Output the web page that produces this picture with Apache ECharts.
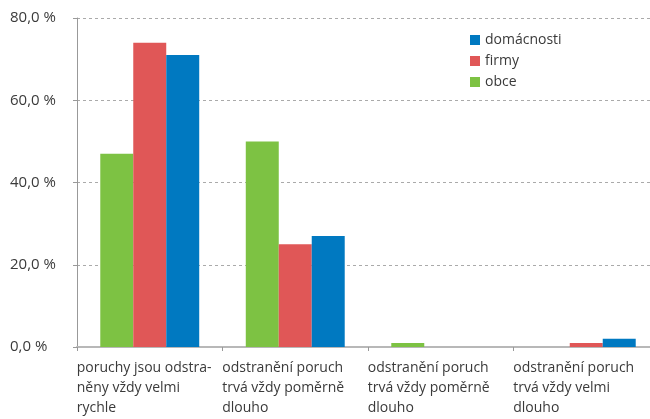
<!DOCTYPE html>
<html>
<head>
<meta charset="utf-8">
<script src="https://cdn.jsdelivr.net/npm/echarts@6/dist/echarts.min.js"></script>
<style>
    html, body { margin: 0; padding: 0; background: #fff; }
    #chart { width: 650px; height: 419px; }
</style>
</head>
<body>
<div id="chart"></div>
<script>
// categories (labels already split like in the original)
var categories = [
    'poruchy jsou odstra-\nněny vždy velmi\nrychle',
    'odstranění poruch\ntrvá vždy poměrně\ndlouho',
    'odstranění poruch\ntrvá vždy poměrně\ndlouho ',
    'odstranění poruch\ntrvá vždy velmi\ndlouho'
]
var obce = [47, 50, 1, 0]
var firmy = [74, 25, 0, 1]
var domacnosti = [71, 27, 0, 2]
var yTicks = [0, 20, 40, 60, 80]

var textColor = '#3a3a3a'
var fontFam = '"Open Sans", "Noto Sans", sans-serif'

var chart = echarts.init(document.getElementById('chart'))

var option = {
    animation: false,
    textStyle: { fontFamily: fontFam },
    legend: {
        orient: 'vertical',
        left: 465,
        top: 28,
        icon: 'rect',
        itemWidth: 10,
        itemHeight: 10,
        itemGap: 7,
        data: ['domácnosti', 'firmy', 'obce'],
        textStyle: { color: textColor, fontSize: 14, fontFamily: fontFam }
    },
    grid: { left: 77, top: 18, width: 582, height: 329, containLabel: false, outerBoundsMode: 'none' },
    xAxis: {
        type: 'category',
        data: categories,
        axisLine: { lineStyle: { color: '#b8b8b8', width: 2 } },
        axisTick: { show: true, length: 4, lineStyle: { color: '#999' } },
        axisLabel: {
            interval: 0,
            margin: 11,
            formatter: function (v) {
                return v.trim().split('\n').map(function (s) { return '{a|' + s + '}' }).join('\n')
            },
            rich: {
                a: {
                    width: 145,
                    align: 'left',
                    fontSize: 14,
                    lineHeight: 20,
                    color: textColor,
                    fontFamily: fontFam,
                    padding: [0, 0, 0, -1]
                }
            }
        }
    },
    yAxis: {
        type: 'value',
        min: 0,
        max: 80,
        interval: 20,
        axisLine: { show: true, lineStyle: { color: '#999', width: 1 } },
        axisTick: { show: true, length: 4, lineStyle: { color: '#999' } },
        splitLine: { lineStyle: { color: '#aaa', type: [3, 3] } },
        axisLabel: {
            margin: 67,
            align: 'left',
            fontSize: 15,
            color: textColor,
            fontFamily: fontFam,
            formatter: function (v) {
                if (yTicks.indexOf(v) < 0) return ''
                return v.toFixed(1).replace('.', ',') + ' %'
            }
        }
    },
    series: [
        { name: 'obce', type: 'bar', data: obce, itemStyle: { color: '#7DC243' }, barGap: '0%', barCategoryGap: '32%' },
        { name: 'firmy', type: 'bar', data: firmy, itemStyle: { color: '#E05757' }, barGap: '0%', barCategoryGap: '32%' },
        { name: 'domácnosti', type: 'bar', data: domacnosti, itemStyle: { color: '#0079C1' }, barGap: '0%', barCategoryGap: '32%' }
    ]
}

chart.setOption(option)
</script>
</body>
</html>
